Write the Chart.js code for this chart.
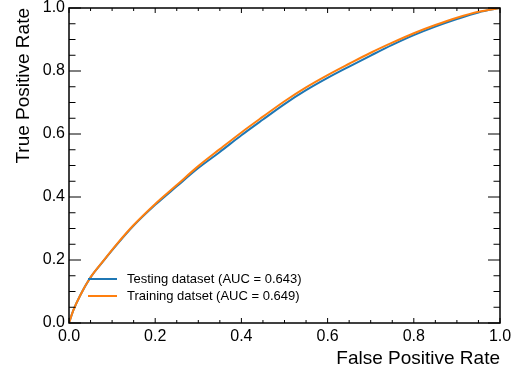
<!DOCTYPE html>
<html>
<head>
<meta charset="utf-8">
<script src="https://cdn.jsdelivr.net/npm/chart.js@4"></script>
<style>
  html, body { margin: 0; padding: 0; background: #fff; }
  #roc { display: block; }
</style>
</head>
<body>
<canvas id="roc" width="518" height="374"></canvas>
<script>
// ROC curve values
const fpr = [0, 0.01, 0.025, 0.05, 0.08, 0.11, 0.15, 0.2, 0.25, 0.3, 0.35, 0.4, 0.45, 0.5, 0.55, 0.6, 0.65, 0.7, 0.75, 0.8, 0.85, 0.9, 0.95, 1.0];
const tprTest = [0, 0.04, 0.085, 0.145, 0.197, 0.247, 0.309, 0.375, 0.434, 0.492, 0.543, 0.596, 0.646, 0.695, 0.739, 0.778, 0.814, 0.849, 0.883, 0.914, 0.941, 0.965, 0.986, 1.0];
const tprTrain = [0, 0.04, 0.085, 0.145, 0.198, 0.249, 0.311, 0.378, 0.438, 0.498, 0.552, 0.605, 0.655, 0.704, 0.748, 0.787, 0.823, 0.858, 0.890, 0.920, 0.946, 0.969, 0.988, 1.0];
const labels = ["Testing dataset (AUC = 0.643)", "Training datset (AUC = 0.649)"];
const colors = ["#1f77b4", "#ff7f0e"];
const majorTicks = [0, 0.2, 0.4, 0.6, 0.8, 1.0];

const FONT = "'Liberation Sans', Arial, Helvetica, sans-serif";

function pts(ys) {
  return fpr.map((x, i) => ({x: x, y: ys[i]}));
}

// frame, inward ticks on all four sides, and the legend inside the axes
const framePlugin = {
  id: 'frame',
  afterDatasetsDraw(chart) {
    const ctx = chart.ctx;
    const a = chart.chartArea;
    const xs = chart.scales.x, ys = chart.scales.y;
    ctx.save();
    ctx.strokeStyle = '#000';
    ctx.lineWidth = 1;
    for (let k = 0; k <= 20; k++) {
      const v = k * 0.05;
      const major = k % 4 === 0;
      const px = xs.getPixelForValue(v);
      const py = ys.getPixelForValue(v);
      const lx = major ? 5 : 3;   // ticks on x axes
      const ly = major ? 12 : 6.5; // ticks on y axes
      ctx.beginPath();
      ctx.moveTo(px, a.bottom); ctx.lineTo(px, a.bottom - lx);
      ctx.moveTo(px, a.top); ctx.lineTo(px, a.top + lx);
      ctx.moveTo(a.left, py); ctx.lineTo(a.left + ly, py);
      ctx.moveTo(a.right, py); ctx.lineTo(a.right - ly, py);
      ctx.stroke();
    }
    ctx.lineWidth = 1.5;
    ctx.strokeRect(a.left, a.top, a.right - a.left, a.bottom - a.top);

    // legend
    ctx.font = '13px ' + FONT;
    ctx.textBaseline = 'middle';
    ctx.fillStyle = '#000';
    chart.data.datasets.forEach((ds, i) => {
      const y = 279 + i * 17;
      ctx.strokeStyle = ds.borderColor;
      ctx.lineWidth = 2;
      ctx.beginPath();
      ctx.moveTo(88, y); ctx.lineTo(117, y);
      ctx.stroke();
      ctx.fillText(ds.label, 127, y);
    });
    ctx.restore();
  }
};

new Chart(document.getElementById('roc'), {
  type: 'scatter',
  data: {
    datasets: [
      {label: labels[0], data: pts(tprTest), borderColor: colors[0], backgroundColor: colors[0], order: 1},
      {label: labels[1], data: pts(tprTrain), borderColor: colors[1], backgroundColor: colors[1], order: 0}
    ]
  },
  options: {
    responsive: false,
    animation: false,
    devicePixelRatio: 1,
    showLine: true,
    layout: {padding: {top: 8, right: 18, left: 0, bottom: 0}},
    elements: {
      point: {radius: 0, hoverRadius: 0},
      line: {borderWidth: 2, cubicInterpolationMode: 'monotone', fill: false}
    },
    plugins: {legend: {display: false}, tooltip: {enabled: false}},
    scales: {
      x: {
        type: 'linear', min: 0, max: 1,
        afterFit: s => { s.height = 51; },
        afterBuildTicks: s => { s.ticks = majorTicks.map(v => ({value: v})); },
        grid: {display: false, drawTicks: false},
        border: {display: false},
        ticks: {padding: 4, color: '#000', font: {size: 16, family: FONT}, callback: v => v.toFixed(1), maxRotation: 0},
        title: {display: true, text: 'False Positive Rate', align: 'end', color: '#000',
                font: {size: 19, family: FONT}, padding: {top: 0, bottom: 4}}
      },
      y: {
        type: 'linear', min: 0, max: 1,
        afterFit: s => { s.width = 69; },
        afterBuildTicks: s => { s.ticks = majorTicks.map(v => ({value: v})); },
        grid: {display: false, drawTicks: false},
        border: {display: false},
        ticks: {padding: 4, color: '#000', font: {size: 16, family: FONT, lineHeight: 0.5}, callback: v => v.toFixed(1)},
        title: {display: true, text: 'True Positive Rate', align: 'end', color: '#000',
                font: {size: 19, family: FONT}, padding: {top: 12.6, bottom: 0}}
      }
    }
  },
  plugins: [framePlugin]
});
</script>
</body>
</html>
